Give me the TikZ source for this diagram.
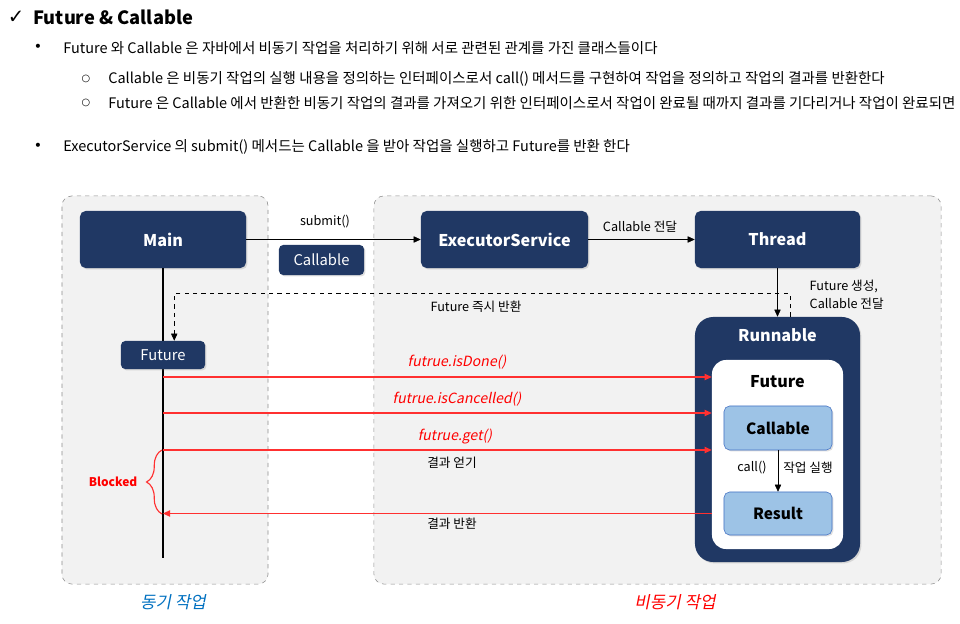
\documentclass[tikz,border=0pt]{standalone}
\usepackage{fontspec}
\setmainfont{Noto Sans CJK KR}
\newfontfamily\symfont{DejaVu Sans}
\newfontfamily\slantfont[FakeSlant=0.2]{Noto Sans CJK KR}
\usetikzlibrary{arrows.meta,decorations.pathreplacing,shadows}
\definecolor{navy}{HTML}{203864}
\definecolor{paleblue}{HTML}{9DC3E6}
\definecolor{paleedge}{HTML}{4472C4}
\definecolor{areafill}{HTML}{F2F2F2}
\definecolor{areaedge}{HTML}{8C8C8C}
\definecolor{syncblue}{HTML}{0070C0}
\definecolor{arrowred}{HTML}{FF3030}

\begin{document}
\begin{tikzpicture}[x=0.025cm,y=-0.025cm,
  area/.style={draw=areaedge,dashed,fill=areafill,rounded corners=7pt},
  navybox/.style={fill=navy,rounded corners=4pt,text=white,
    font=\bfseries\fontsize{11.5}{14}\selectfont,
    drop shadow={opacity=0.25,shadow xshift=1pt,shadow yshift=-1pt}},
  smallbox/.style={navybox,rounded corners=3pt,font=\fontsize{10.5}{12}\selectfont},
  palebox/.style={fill=paleblue,draw=paleedge,rounded corners=4pt,
    font=\bfseries\fontsize{11}{14}\selectfont,
    drop shadow={opacity=0.25,shadow xshift=1pt,shadow yshift=-1pt}},
  body/.style={anchor=west,inner sep=0pt,font=\fontsize{10.3}{12}\selectfont},
  bulletmark/.style={inner sep=0pt,font=\symfont\fontsize{7}{8}\selectfont},
  lbl/.style={inner sep=1pt,font=\fontsize{9}{12.8}\selectfont},
  redlbl/.style={inner sep=1pt,text=red,font=\slantfont\fontsize{10}{12}\selectfont},
  tip/.style={-{Triangle[length=5pt,width=4.5pt]}},
  redarrow/.style={arrowred,line width=0.8pt,-{Triangle[length=5pt,width=4.5pt]}}]
  \useasboundingbox (0,0) rectangle (960,624);
  % header text
  \node[inner sep=0pt,font=\symfont\fontsize{14}{15}\selectfont] (check) at (16,17) {✓};
  \node[body,font=\bfseries\fontsize{13}{16}\selectfont] (title) at (33,17) {Future \& Callable};
  \node[bulletmark,font=\symfont\fontsize{10}{10}\selectfont] (dotA) at (38,48) {•};
  \node[body] (lineA) at (63,48) {Future 와 Callable 은 자바에서 비동기 작업을 처리하기 위해 서로 관련된 관계를 가진 클래스들이다};
  \node[bulletmark] (ringA) at (86,79) {○};
  \node[body] (lineB) at (108,79) {Callable 은 비동기 작업의 실행 내용을 정의하는 인터페이스로서 call() 메서드를 구현하여 작업을 정의하고 작업의 결과를 반환한다};
  \node[bulletmark] (ringB) at (86,103) {○};
  \node[body] (lineC) at (108,103) {Future 은 Callable 에서 반환한 비동기 작업의 결과를 가져오기 위한 인터페이스로서 작업이 완료될 때까지 결과를 기다리거나 작업이 완료되면};
  \node[bulletmark,font=\symfont\fontsize{10}{10}\selectfont] (dotB) at (38,147) {•};
  \node[body] (lineD) at (63,147) {ExecutorService 의 submit() 메서드는 Callable 을 받아 작업을 실행하고 Future를 반환 한다};

  % sync / async areas
  \node[area,minimum width=5.15cm,minimum height=9.7cm] (syncarea) at (165,390) {};
  \node[area,minimum width=14.175cm,minimum height=9.7cm] (asyncarea) at (657.5,390) {};
  \node[font=\slantfont\fontsize{12}{14}\selectfont,text=syncblue] (synclbl) at (173,602) {동기 작업};
  \node[font=\slantfont\fontsize{12}{14}\selectfont,text=red] (asynclbl) at (675,602) {비동기 작업};

  \node[navybox,minimum width=4.15cm,minimum height=1.425cm] (main) at (163,239.5) {Main};
  \coordinate (tlend) at (163,558);
  \draw[line width=2pt] (main.south) -- (tlend);
  \node[smallbox,minimum width=2.125cm,minimum height=0.75cm] (callarg) at (321.5,260) {Callable};
  \node[navybox,minimum width=4.175cm,minimum height=1.425cm] (executor) at (504.5,239.5) {ExecutorService};
  \node[navybox,minimum width=4.125cm,minimum height=1.425cm] (thread) at (777.5,239.5) {Thread};
  \node[smallbox,minimum width=2.1cm,minimum height=0.7cm] (futurecall) at (163,355) {Future};

  \node[navybox,rounded corners=13pt,minimum width=4.125cm,minimum height=6.125cm] (runnable) at (777.5,439.5) {};
  \node[text=white,font=\bfseries\fontsize{11.5}{14}\selectfont] (runnablelbl) at (777.5,335) {Runnable};
  \node[fill=white,rounded corners=10pt,minimum width=3.275cm,minimum height=4.725cm] (futurebox) at (777.5,454.5) {};
  \node[font=\bfseries\fontsize{11.5}{14}\selectfont] (futurelbl) at (777.5,382) {Future};
  \node[palebox,minimum width=2.7cm,minimum height=1.1cm] (callable) at (778,428) {Callable};
  \node[palebox,minimum width=2.7cm,minimum height=1.075cm] (result) at (778,513.5) {Result};

  \draw[tip] (main.east) -- (executor.west);
  \draw[tip] (executor.east) -- (thread.west);
  \draw[tip] (thread.south) -- (runnable.north);
  \draw[tip] (callable.south) -- (result.north);
  \draw[dashed,tip] ([xshift=9pt]runnable.north) -- ++(0,-23) -| ([xshift=8pt]futurecall.north);

  \node[lbl] (submitlbl) at (325,222) {submit()};
  \node[lbl] (passlbl) at (640,227) {Callable 전달};
  \node[lbl,align=left,anchor=west] (createlbl) at (808,295) {Future 생성,\\Callable 전달};
  \node[lbl] (returnlbl) at (476,307) {Future 즉시 반환};
  \node[lbl] (calllbl) at (752,468) {call()};
  \node[lbl] (runlbl) at (808,468) {작업 실행};

  % calls from main to the future
  \foreach \y/\n in {377/1,413/2,450/3} {
    \coordinate (q\n) at (163,\y);
    \draw[redarrow] (q\n) -- (q\n -| futurebox.west);
  }
  \draw[redarrow] (futurebox.west |- result.west) -- (tlend |- result.west);
  \node[redlbl] (donelbl) at (457,362) {futrue.isDone()};
  \node[redlbl] (cancellbl) at (457,399) {futrue.isCancelled()};
  \node[redlbl] (getlbl) at (455,437) {futrue.get()};
  \node[lbl] (obtainlbl) at (452,463) {결과 얻기};
  \node[lbl] (resultlbl) at (452,524) {결과 반환};

  \draw[arrowred,line width=0.8pt,decorate,decoration={brace,amplitude=11pt}] (162,514) -- (162,450);
  \node[text=red,font=\bfseries\fontsize{8.5}{12}\selectfont] (blocked) at (113,482) {Blocked};
\end{tikzpicture}
\end{document}
